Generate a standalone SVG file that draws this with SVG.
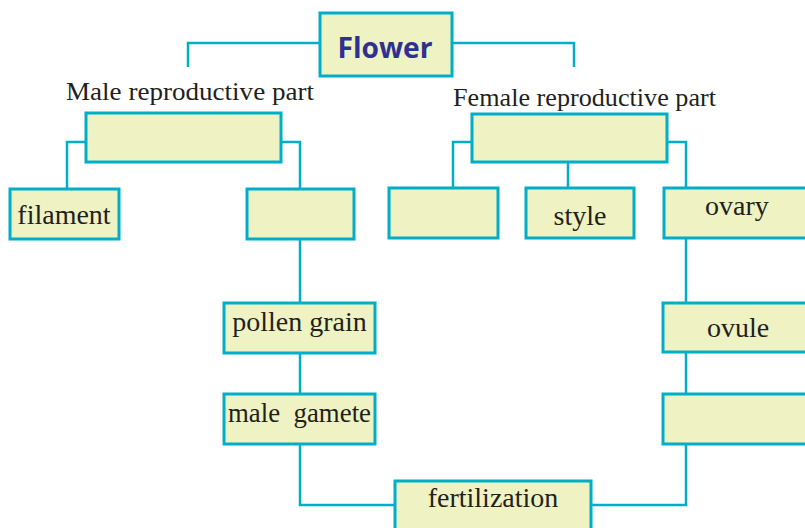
<svg xmlns="http://www.w3.org/2000/svg" width="805" height="528" viewBox="0 0 805 528">
<style>
.box{fill:#eff2c2;stroke:#00aec8;stroke-width:3}
.con{fill:none;stroke:#00aec8;stroke-width:2.5}
.t{font-family:"Liberation Serif","Times New Roman",serif;font-size:28px;fill:#231f20;text-anchor:middle}
.lbl{font-family:"Liberation Serif","Times New Roman",serif;font-size:26px;fill:#231f20}
.title{font-family:"Open Sans","Liberation Sans",sans-serif;font-weight:bold;font-size:28px;fill:#2e3192;text-anchor:middle}
</style>
<rect width="805" height="528" fill="#ffffff"/>
<g id="connectors">
<path class="con" d="M320,43 H188 V67"/>
<path class="con" d="M452,43 H574 V67"/>
<path class="con" d="M86,142 H67 V189"/>
<path class="con" d="M281,142 H300 V189"/>
<path class="con" d="M300,239 V303"/>
<path class="con" d="M300,353 V394"/>
<path class="con" d="M300,444 V505 H395"/>
<path class="con" d="M472,142 H453 V188"/>
<path class="con" d="M568,162 V188"/>
<path class="con" d="M667,142 H686 V188"/>
<path class="con" d="M686,238 V303"/>
<path class="con" d="M686,352 V394"/>
<path class="con" d="M686,444 V505 H591"/>
</g>
<g id="flower"><rect class="box" x="320" y="13" width="132" height="63"/><text class="title" x="385" y="58" textLength="95" lengthAdjust="spacingAndGlyphs">Flower</text></g>
<g id="male-label"><text class="lbl" x="66" y="100" textLength="248" lengthAdjust="spacingAndGlyphs">Male reproductive part</text></g>
<g id="female-label"><text class="lbl" x="453" y="106" textLength="263" lengthAdjust="spacingAndGlyphs">Female reproductive part</text></g>
<g id="male"><rect class="box" x="86" y="113" width="195" height="49"/></g>
<g id="female"><rect class="box" x="472" y="114" width="195" height="48"/></g>
<g id="filament"><rect class="box" x="10" y="189" width="109" height="50"/><text class="t" x="64" y="224">filament</text></g>
<g id="anther"><rect class="box" x="247" y="189" width="107" height="50"/></g>
<g id="stigma"><rect class="box" x="389" y="188" width="109" height="50"/></g>
<g id="style"><rect class="box" x="526" y="188" width="108" height="50"/><text class="t" x="580" y="225">style</text></g>
<g id="ovary"><rect class="box" x="664" y="188" width="150" height="50"/><text class="t" x="737" y="215">ovary</text></g>
<g id="pollen-grain"><rect class="box" x="224" y="303" width="151" height="50"/><text class="t" x="299.5" y="331">pollen grain</text></g>
<g id="male-gamete"><rect class="box" x="224" y="394" width="151" height="50"/><text class="t" x="299.5" y="422" xml:space="preserve" textLength="143" lengthAdjust="spacingAndGlyphs">male  gamete</text></g>
<g id="ovule"><rect class="box" x="663" y="303" width="150" height="49"/><text class="t" x="738" y="337">ovule</text></g>
<g id="female-gamete"><rect class="box" x="663" y="394" width="150" height="50"/></g>
<g id="fertilization"><rect class="box" x="395" y="481" width="196" height="60"/><text class="t" x="493" y="507">fertilization</text></g>
</svg>
